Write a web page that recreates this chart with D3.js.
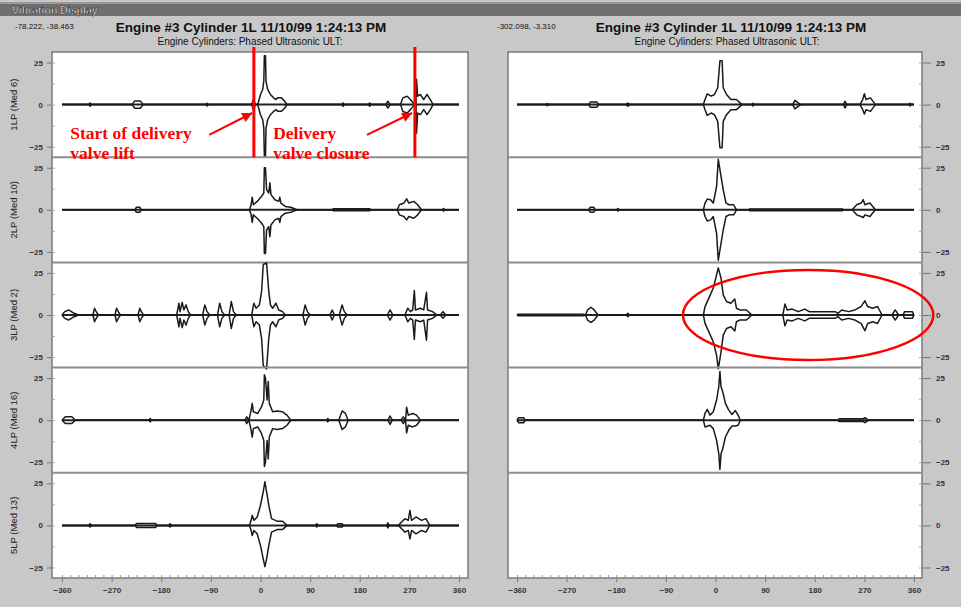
<!DOCTYPE html>
<html>
<head>
<meta charset="utf-8">
<title>Vibration Display</title>
<script src="https://cdn.jsdelivr.net/npm/d3@7"></script>
<style>
  body { margin: 0; background: #c8c8c8; }
  svg { display: block; font-family: "Liberation Sans", Arial, sans-serif; }
</style>
</head>
<body>
<div id="chart"></div>
<script>
var angleTicks = [-360, -270, -180, -90, 0, 90, 180, 270, 360];
var minorAngleTicks = d3.range(-360, 361, 15);
var ampTicks = [25, 0, -25];
var minorAmpTicks = [25, 12.5, 0, -12.5, -25];

var channelNames = ['1LP (Med 6)', '2LP (Med 10)', '3LP (Med 2)', '4LP (Med 16)', '5LP (Med 13)'];

var headerTitle = 'Engine #3 Cylinder 1L 11/10/99 1:24:13 PM';
var headerSubtitle = 'Engine Cylinders: Phased Ultrasonic ULT:';
var cursorLeft = '-78.222, -38.463';
var cursorRight = '-302.098, -3.310';

// envelope points: [crank angle (deg), upper amplitude, lower amplitude]
var left1 = [[-360,0,0],[-311,0,0],[-309,1,1],[-307,0,0],[-233,0,0],[-228,2.2,2.2],[-218,2.2,2.2],[-213,0,0],
  [-99,0,0],[-97,0.8,0.8],[-95,0,0],[-16,0,0],[-13,3,3],[-9,0,0],[-5,0,0],[0,6,6],[4,9,9],[6,14,14],[7,29,31],
  [9,29,31],[10,14,14],[13,9,9],[18,6,6],[24,4,4],[28,3,3],[31,4,4],[38,4,4],[44,2,2],[48,0,0],[148,0,0],[150,1,1],
  [152,0,0],[196,0,0],[198,1,1],[200,0,0],[227,0,0],[231,2,2],[235,0,0],[254,0,0],[258,4,4],[266,5,5],[272,3,3],
  [279,0,0],[282,0,0],[283,15,17],[285,5,5],[290,6,6],[296,3,3],[302,6,6],[308,3,3],[313,0,0],[360,0,0]];
var left2 = [[-360,0,0],[-228,0,0],[-225,1.5,1.5],[-219,1.5,1.5],[-216,0,0],[-20,0,0],[-17,3,3],[-15,7.5,7.5],
  [-13,3,3],[-6,5,5],[2,8,8],[6,10,10],[7,25,26],[9,25,26],[11,12,12],[15,10,10],[17,16,16],[19,9,9],[26,6,6],
  [33,5,5],[35,7.5,7.5],[37,4,4],[45,2,2],[55,1.5,1.5],[66,0,0],[130,0,0],[132,0.6,0.6],[198,0.6,0.6],[200,0,0],
  [248,0,0],[252,3,3],[260,4,4],[265,6.5,6],[269,4,4],[278,5,5],[285,3,3],[292,0,0],[330,0,0],[332,0.8,0.8],
  [334,0,0],[360,0,0]];
var left3 = [[-360,0,0],[-355,2,2],[-348,3,3],[-338,1,1],[-330,0,0],[-304,0,0],[-301,4,4],[-298,2,2],[-294,0,0],
  [-264,0,0],[-261,4,4],[-258,2,2],[-254,0,0],[-222,0,0],[-219,4,4],[-216,2,2],[-212,0,0],[-152,0,0],[-148,7,7],
  [-146,2,2],[-142,7.5,7.5],[-139,3,3],[-135,6,6],[-131,2,2],[-127,0,0],[-105,0,0],[-101,6,6],[-97,2,2],[-92,0,0],
  [-78,0,0],[-74,7,7],[-70,2,2],[-65,0,0],[-57,0,0],[-53,8,8],[-49,2,2],[-44,0,0],[-16,0,0],[-12,7,7],[-8,4,4],
  [-2,6,6],[2,14,14],[5,30,30],[11,31,32],[15,14,14],[18,6,6],[22,4,4],[28,7,7],[33,3,3],[40,2,2],[45,0,0],
  [77,0,0],[81,6,6],[85,2,2],[90,0,0],[126,0,0],[130,3,3],[134,0,0],[143,0,0],[148,6,6],[152,2,2],[157,0,0],
  [230,0,0],[235,3,3],[240,0,0],[262,0,0],[267,4,4],[272,2,2],[276,3,3],[279,14.5,14.5],[281,3,3],[290,4,4],
  [296,3,3],[301,13.5,15],[303,3,3],[312,2,2],[320,0,0],[326,0,0],[331,2,2],[336,0,0],[360,0,0]];
var left4 = [[-360,0,0],[-354,2,2],[-342,2,2],[-336,0,0],[-202,0,0],[-200,1,1],[-198,0,0],[-28,0,0],[-25,2,2],
  [-21,0,0],[-17,6,6],[-15,10,10],[-13,5,5],[-5,4,4],[2,8,8],[6,12,12],[7,27,27.5],[9,25,25],[12,12,12],
  [14,23,23],[16,10,10],[22,5,5],[30,5.5,5.5],[40,5,5],[48,3,3],[55,0,0],[120,0,0],[122,1,1],[124,0,0],[142,0,0],
  [148,5.5,5.5],[154,4,4],[159,0,0],[231,0,0],[235,2.5,2.5],[239,0,0],[255,0,0],[259,2,2],[263,0,0],[265,7.7,7.5],
  [268,3,3],[276,4,4],[283,3,3],[290,0,0],[360,0,0]];
var left5 = [[-360,0,0],[-311,0,0],[-309,1,1],[-307,0,0],[-227,0,0],[-225,1.2,1.2],[-190,1.2,1.2],[-188,0,0],
  [-166,0,0],[-164,1,1],[-162,0,0],[-20,0,0],[-17,3,3],[-15,6,6],[-12,3,3],[-6,5,5],[0,12,12],[5,20,20],
  [8,26,24.5],[11,20,20],[15,12,12],[20,4,4],[30,2.5,2.5],[40,2.5,2.5],[48,0,0],[100,0,0],[102,1,1],[104,0,0],
  [138,0,0],[140,1,1],[148,1,1],[150,0,0],[229,0,0],[231,1.5,1.5],[233,0,0],[250,0,0],[256,2,2],[262,4,4],
  [268,3,3],[271,9,8],[274,3,3],[282,5,5],[292,3,3],[300,4,4],[307,0,0],[360,0,0]];

var right1 = [[-360,0,0],[-307,0,0],[-305,0.6,0.6],[-303,0,0],[-230,0,0],[-227,1.5,1.5],[-215,1.5,1.5],[-212,0,0],
  [-162,0,0],[-159,1,1],[-156,0,0],[-22,0,0],[-19,3,3],[-15,6.4,6.4],[-8,5,5],[-2,6,6],[4,10,10],[8,26,25.6],
  [12,26,25.6],[14,10,10],[20,6,6],[28,3,3],[38,3,3],[48,0,0],[66,0,0],[68,0.8,0.8],[70,0,0],[140,0,0],
  [144,2.5,2.5],[150,1,1],[155,0,0],[232,0,0],[235,2,2],[238,0,0],[262,0,0],[267,3,3],[270,6.4,5.6],[273,3,3],
  [281,4,4],[290,0,0],[351,0,0],[353,0.8,0.8],[355,0,0],[360,0,0]];
var right2 = [[-360,0,0],[-230,0,0],[-227,1.5,1.5],[-221,1.5,1.5],[-218,0,0],[-179,0,0],[-177,0.8,0.8],[-175,0,0],
  [-22,0,0],[-19,4,4],[-15,6.4,6.6],[-9,6,6],[-4,4,4],[2,14,14],[5,30,30],[9,22,22],[14,12,12],[19,4,4],
  [25,3,3],[33,3,3],[38,0,0],[60,0,0],[62,0.5,0.5],[230,0.5,0.5],[232,0,0],[248,0,0],[256,3,3],[264,4,4],
  [268,6,4.6],[271,3,3],[280,4,4],[290,0,0],[360,0,0]];
var right3 = [[-360,0,0],[-358,0.5,0.5],[-240,0.5,0.5],[-236,0,0],[-232,3,3],[-226,4.6,4.4],[-220,3,3],[-213,0,0],
  [-162,0,0],[-159,1,1],[-156,0,0],[-22,0,0],[-19,5,5],[-12,10,10],[-4,16,16],[2,24,24],[5,28,32],[10,22,22],
  [14,12,12],[20,8,8],[28,7,7],[35,9.5,9.5],[38,4,4],[44,3,3],[56,3,3],[66,0,0],[122,0,0],[126,6.5,6.4],
  [130,3,3],[139,3.5,3.5],[150,2,2],[162,3.5,3.5],[170,2,2],[196,2,2],[217,2,2],[222,1,1],[229,3,3],[241,2,2],
  [253,3,3],[258,4,4],[264,5,5],[271,8.5,9.3],[276,5,5],[285,4,4],[294,5,5],[302,0,0],[320,0,0],[326,3,3],
  [332,0,0],[340,0,0],[343,2,2],[357,2,2],[360,0,0]];
var right4 = [[-360,0,0],[-357,1.5,1.5],[-348,1.5,1.5],[-345,0,0],[-22,0,0],[-19,4,4],[-15,6.4,3.6],[-10,3,3],
  [-4,5,5],[2,12,12],[6,20,20],[8,29,29.3],[10,20,20],[13,17,17],[18,10,10],[24,6,6],[30,3.4,3.4],[36,5.7,3.4],
  [41,3,3],[45,0,0],[222,0,0],[224,0.8,0.8],[268,0.8,0.8],[271,1.5,1.5],[274,0.8,0.8],[277,0,0],[360,0,0]];
var right5 = null; // no trace recorded

var leftTraces = [left1, left2, left3, left4, left5];
var rightTraces = [right1, right2, right3, right4, right5];

// annotation values
var deliveryAngles = [-12, 280];
var annotationLabels = [
  { lines: ['Start of delivery', 'valve lift'], angle: -345, amp: -20.5, arrowFrom: [-93, -18], arrowTo: [-15, -5] },
  { lines: ['Delivery', 'valve closure'], angle: 23, amp: -20.5, arrowFrom: [193, -18], arrowTo: [275, -5] }
];
var highlight = { row: 2, angle: 168, amp: 0, rx: 227, ry: 26.8 };

// ---- layout ----
var width = 961, height = 607;
var plotTop = 52, plotBottom = 578;
var ampDomain = [-31.25, 31.25];

var rowScale = d3.scaleLinear().domain([0, 5]).range([plotTop, plotBottom]);

function rowY(i) {
  return d3.scaleLinear().domain(ampDomain).range([rowScale(i + 1), rowScale(i)]);
}

var svg = d3.select('#chart').append('svg')
  .attr('width', width)
  .attr('height', height);

svg.append('rect').attr('width', width).attr('height', height).attr('fill', '#c8c8c8');

// window title bar
svg.append('rect').attr('x', 0).attr('y', 2).attr('width', width).attr('height', 14).attr('fill', '#6f6f6f');
svg.append('rect').attr('x', 0).attr('y', 2).attr('width', width).attr('height', 2).attr('fill', '#9a9a9a');
svg.append('text')
  .attr('x', 12).attr('y', 13.5)
  .attr('fill', '#f4f4f4')
  .attr('stroke', '#222').attr('stroke-width', 0.5)
  .style('font-size', '10.5px').style('font-weight', 'bold')
  .text('Vibration Display');

function styleTicks(sel) {
  sel.selectAll('text')
    .style('font-size', '8px').style('font-weight', 'bold')
    .attr('fill', '#333').attr('font-family', null);
}

function drawColumn(side, traces, opts) {
  var x = d3.scaleLinear().domain([-360, 360]).range(opts.range);
  var g = svg.append('g').attr('class', 'column ' + side);

  // headers
  g.append('text').attr('x', opts.cursorX).attr('y', 29)
    .style('font-size', '8px').attr('fill', '#111').text(opts.cursor);
  g.append('text').attr('x', opts.titleX).attr('y', 32).attr('text-anchor', 'middle')
    .style('font-size', '13.5px').style('font-weight', 'bold').attr('fill', '#111').text(headerTitle);
  g.append('text').attr('x', opts.subX).attr('y', 44.5).attr('text-anchor', 'middle')
    .style('font-size', '10px').attr('fill', '#111').text(headerSubtitle);

  // plot area
  g.append('rect')
    .attr('x', opts.frame[0]).attr('y', plotTop)
    .attr('width', opts.frame[1] - opts.frame[0]).attr('height', plotBottom - plotTop)
    .attr('fill', '#fff').attr('stroke', '#7a7a7a').attr('stroke-width', 1.5);

  traces.forEach(function (trace, i) {
    var y = rowY(i);
    var row = g.append('g').attr('class', 'row');

    if (i > 0) {
      row.append('line')
        .attr('x1', opts.frame[0]).attr('x2', opts.frame[1])
        .attr('y1', rowScale(i)).attr('y2', rowScale(i))
        .attr('stroke', '#8c8c8c').attr('stroke-width', 2);
    }

    // amplitude axis
    var axis = side === 'left' ? d3.axisLeft(y) : d3.axisRight(y);
    var ax = row.append('g')
      .attr('transform', 'translate(' + (side === 'left' ? opts.frame[0] : opts.frame[1]) + ',0)')
      .call(axis.tickValues(ampTicks).tickSize(side === 'left' ? 5 : 9).tickPadding(side === 'left' ? 4 : 5).tickFormat(d3.format('d')));
    ax.select('.domain').remove();
    ax.selectAll('line').attr('stroke', '#777');
    styleTicks(ax);

    var minor = side === 'left' ? d3.axisRight(y) : d3.axisLeft(y);
    var mx = row.append('g')
      .attr('transform', 'translate(' + (side === 'left' ? opts.frame[0] : opts.frame[1]) + ',0)')
      .call(minor.tickValues(minorAmpTicks).tickSize(3).tickFormat(''));
    mx.select('.domain').remove();
    mx.selectAll('line').attr('stroke', '#aaa');

    if (side === 'left') {
      row.append('text')
        .attr('transform', 'translate(17,' + y(0) + ') rotate(-90)')
        .attr('text-anchor', 'middle')
        .style('font-size', '9.5px').attr('fill', '#222')
        .text(channelNames[i]);
    }

    if (!trace) return;

    var upper = d3.line().x(function (d) { return x(d[0]); }).y(function (d) { return y(d[1]); });
    var lower = d3.line().x(function (d) { return x(d[0]); }).y(function (d) { return y(-d[2]); });

    row.append('path')
      .attr('d', d3.line().x(function (d) { return x(d); }).y(y(0))(x.domain()))
      .attr('stroke', '#222').attr('stroke-width', 2).attr('fill', 'none');
    row.append('path').datum(trace).attr('d', upper)
      .attr('stroke', '#1a1a1a').attr('stroke-width', 1.5).attr('fill', 'none').attr('stroke-linejoin', 'round');
    row.append('path').datum(trace).attr('d', lower)
      .attr('stroke', '#1a1a1a').attr('stroke-width', 1.5).attr('fill', 'none').attr('stroke-linejoin', 'round');
  });

  // crank angle axis
  var bx = g.append('g').attr('transform', 'translate(0,' + plotBottom + ')')
    .call(d3.axisBottom(x).tickValues(angleTicks).tickSize(4).tickPadding(5).tickFormat(d3.format('d')));
  bx.select('.domain').remove();
  bx.selectAll('line').attr('stroke', '#777');
  styleTicks(bx);

  var mb = g.append('g').attr('transform', 'translate(0,' + plotBottom + ')')
    .call(d3.axisTop(x).tickValues(minorAngleTicks).tickSize(3).tickFormat(''));
  mb.select('.domain').remove();
  mb.selectAll('line').attr('stroke', '#999');

  return x;
}

var xLeft = drawColumn('left', leftTraces, {
  range: [62, 459], frame: [52, 468], cursor: cursorLeft, cursorX: 15, titleX: 251, subX: 250
});
var xRight = drawColumn('right', rightTraces, {
  range: [517, 914], frame: [508, 922], cursor: cursorRight, cursorX: 497, titleX: 731, subX: 727
});

// ---- red annotations ----
var red = '#ff0000';
var y0 = rowY(0);
var notes = svg.append('g').attr('class', 'annotations');

svg.append('defs').append('marker')
  .attr('id', 'arrowhead')
  .attr('viewBox', '0 0 10 10')
  .attr('refX', 10).attr('refY', 5)
  .attr('markerWidth', 12).attr('markerHeight', 10)
  .attr('markerUnits', 'userSpaceOnUse')
  .attr('orient', 'auto')
  .append('path').attr('d', 'M0,0L10,5L0,10z').attr('fill', red);

notes.selectAll('line.valve')
  .data(deliveryAngles)
  .enter().append('line')
  .attr('class', 'valve')
  .attr('x1', function (d) { return xLeft(d); }).attr('x2', function (d) { return xLeft(d); })
  .attr('y1', rowScale(0) - 5).attr('y2', rowScale(1))
  .attr('stroke', red).attr('stroke-width', 3);

annotationLabels.forEach(function (a) {
  var t = notes.append('text')
    .attr('x', xLeft(a.angle)).attr('y', y0(a.amp))
    .attr('fill', red)
    .style('font-family', '"Liberation Serif", "Times New Roman", serif')
    .style('font-size', '17.5px').style('font-weight', 'bold');
  a.lines.forEach(function (line, k) {
    t.append('tspan').attr('x', xLeft(a.angle)).attr('dy', k ? 20 : 0).text(line);
  });
  notes.append('line')
    .attr('x1', xLeft(a.arrowFrom[0])).attr('y1', y0(a.arrowFrom[1]))
    .attr('x2', xLeft(a.arrowTo[0])).attr('y2', y0(a.arrowTo[1]))
    .attr('stroke', red).attr('stroke-width', 2)
    .attr('marker-end', 'url(#arrowhead)');
});

var yh = rowY(highlight.row);
notes.append('ellipse')
  .attr('cx', xRight(highlight.angle)).attr('cy', yh(highlight.amp))
  .attr('rx', xRight(highlight.rx) - xRight(0))
  .attr('ry', yh(0) - yh(highlight.ry))
  .attr('fill', 'none').attr('stroke', red).attr('stroke-width', 2.5);
</script>
</body>
</html>
